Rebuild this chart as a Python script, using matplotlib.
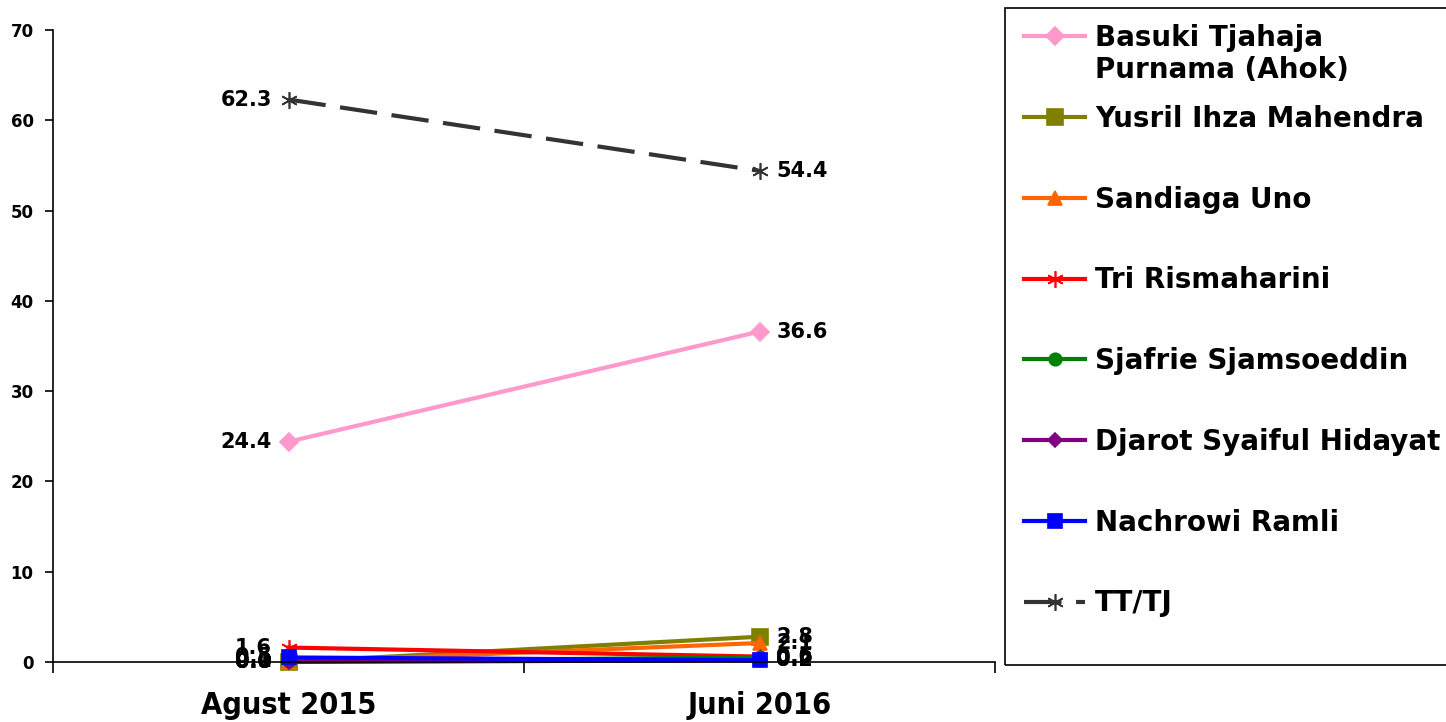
import matplotlib.pyplot as plt
from matplotlib.patches import Rectangle

# data
periods = ['Agust 2015', 'Juni 2016']
names = ['Basuki Tjahaja\nPurnama (Ahok)', 'Yusril Ihza Mahendra', 'Sandiaga Uno',
         'Tri Rismaharini', 'Sjafrie Sjamsoeddin', 'Djarot Syaiful Hidayat',
         'Nachrowi Ramli', 'TT/TJ']
ahok = [24.4, 36.6]
yusril = [0.0, 2.8]
sandiaga = [0.0, 2.1]
risma = [1.6, 0.6]
sjafrie = [0.1, 0.5]
djarot = [0.0, 0.2]
nachrowi = [0.5, 0.2]
tttj = [62.3, 54.4]

series = [ahok, yusril, sandiaga, risma, sjafrie, djarot, nachrowi, tttj]
colors = ['#FF99CC', '#808000', '#FF6600', '#FF0000', '#008000', '#800080',
          '#0000FF', '#333333']
markers = ['D', 's', '^', (6, 2, 0), 'o', 'D', 's', (6, 2, 0)]
msizes = [9, 11, 10, 12, 9, 7, 10, 12]

W, H = 1446, 722
fig = plt.figure(figsize=(W / 100, H / 100), dpi=100)
ax = fig.add_axes([53 / W, 1 - 662 / H, (995 - 53) / W, 632 / H])

x = [0.5, 1.5]
handles = []
for vals, c, m, ms, name in zip(series, colors, markers, msizes, names):
    ls = (0, (9, 3.5)) if name == 'TT/TJ' else '-'
    # baris pertama saja di legend, baris kedua ditulis terpisah
    line, = ax.plot(x, vals, color=c, lw=3, ls=ls, marker=m, ms=ms,
                    mfc=c, mec=c, mew=1.2, label=name.split('\n')[0],
                    clip_on=False)
    handles.append(line)
    # label kiri untuk Agustus, kanan untuk Juni
    ax.annotate(f'{vals[0]:.1f}', (x[0], vals[0]), xytext=(-12, 0),
                textcoords='offset points', ha='right', va='center',
                fontsize=15, fontweight='bold')
    ax.annotate(f'{vals[1]:.1f}', (x[1], vals[1]), xytext=(12, 0),
                textcoords='offset points', ha='left', va='center',
                fontsize=15, fontweight='bold')

ax.set_xlim(0, 2)
ax.set_ylim(0, 70)
ax.set_yticks(range(0, 71, 10))
ax.set_xticks([0, 1, 2])
ax.set_xticklabels([])
ax.set_xticks(x, minor=True)
ax.set_xticklabels(periods, minor=True, fontsize=22, fontweight='bold',
                   fontstretch='condensed')
ax.tick_params(axis='x', which='minor', length=0, pad=21)
ax.tick_params(axis='x', which='major', length=8, width=1.2, direction='out')
ax.tick_params(axis='y', length=6, width=1.2, labelsize=12, pad=8)
for t in ax.get_yticklabels():
    t.set_fontweight('bold')
ax.spines['top'].set_visible(False)
ax.spines['right'].set_visible(False)
ax.spines['left'].set_linewidth(1.2)
ax.spines['bottom'].set_linewidth(1.2)

# kotak legend
fig.patches.append(Rectangle((1005 / W, 1 - 665 / H), 460 / W, 657 / H,
                             transform=fig.transFigure, fill=False,
                             edgecolor='black', lw=1.2))

leg = fig.legend(handles=handles, loc='upper left',
                 bbox_to_anchor=(1024 / W, 1 - 24 / H),
                 prop={'size': 20, 'weight': 'bold'}, frameon=False,
                 handlelength=2.2, labelspacing=1.9, borderpad=0,
                 handletextpad=0.35, borderaxespad=0)

fig.canvas.draw()
bb = leg.get_texts()[0].get_window_extent()
fig.text(bb.x0 / W, (bb.y0 + bb.y1) / 2 / H - 32 / H, names[0].split('\n')[1],
         fontsize=20, fontweight='bold', va='center', ha='left')

fig.savefig('out.png', dpi=100)
